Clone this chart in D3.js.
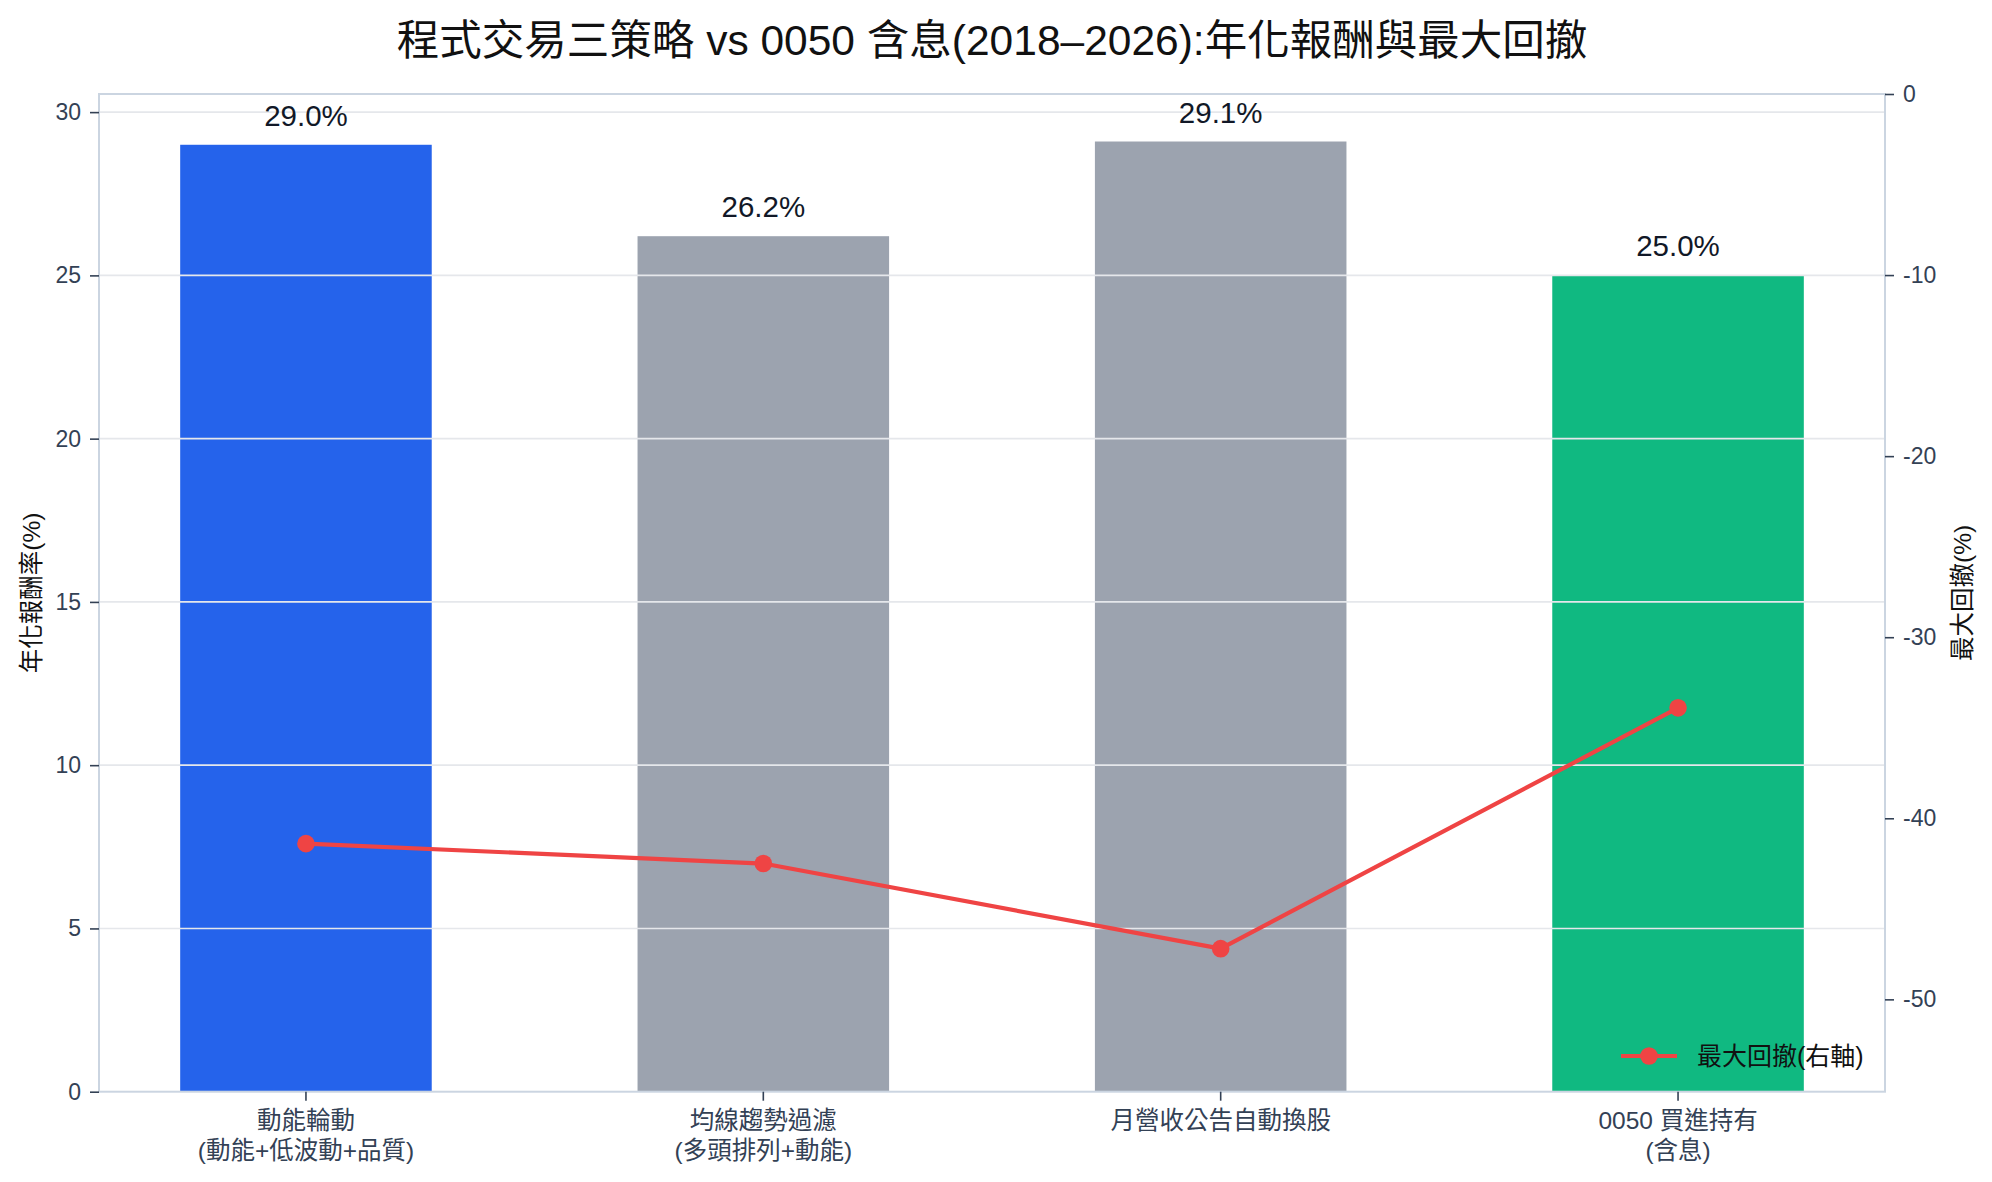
<!DOCTYPE html>
<html lang="zh-Hant">
<head>
  <meta charset="UTF-8">
  <script src="https://cdn.jsdelivr.net/npm/d3@7"></script>
  <title>程式交易三策略 vs 0050</title>
  <style>
    body { margin: 0; background: #fff; }
    svg text { font-family: "Liberation Sans", Arial, "Noto Sans CJK TC", sans-serif; }
  </style>
</head>
<body>
  <svg width="1992" height="1182"></svg>
  <script>
    // data
    var categories = ["動能輪動\n(動能+低波動+品質)", "均線趨勢過濾\n(多頭排列+動能)", "月營收公告自動換股", "0050 買進持有\n(含息)"];
    var annualReturn = [29.0, 26.2, 29.1, 25.0];
    var maxDrawdown = [-41.4, -42.5, -47.2, -33.9];
    var barColors = ["#2563eb", "#9ca3af", "#9ca3af", "#10b981"];
    var leftTicks = [0, 5, 10, 15, 20, 25, 30];
    var rightTicks = [0, -10, -20, -30, -40, -50];

    var svg = d3.select("svg");
    var box = {left: 99, right: 1885, top: 94, bottom: 1091.7};
    var ink = "#334155";

    // scales
    var x = d3.scaleBand().domain(categories)
      .range([box.left, box.right]).paddingInner(0.45).paddingOuter(0.1775);
    var yL = d3.scaleLinear().domain([0, 30.555]).range([box.bottom, box.top]);
    var yR = d3.scaleLinear().domain([-55.1, 0]).range([box.bottom, box.top]);

    // bars
    svg.append("g").selectAll("rect").data(annualReturn).enter().append("rect")
      .attr("x", function(d, i){ return x(categories[i]) })
      .attr("y", function(d){ return yL(d) })
      .attr("width", x.bandwidth())
      .attr("height", function(d){ return yL(0) - yL(d) })
      .attr("fill", function(d, i){ return barColors[i] });

    // grid on top of bars
    svg.append("g").selectAll("line").data(leftTicks.slice(1)).enter().append("line")
      .attr("x1", box.left).attr("x2", box.right)
      .attr("y1", function(d){ return yL(d) }).attr("y2", function(d){ return yL(d) })
      .attr("stroke", "#e5e7eb").attr("stroke-width", 1.6);

    // value labels
    svg.append("g").selectAll("text").data(annualReturn).enter().append("text")
      .attr("x", function(d, i){ return x(categories[i]) + x.bandwidth() / 2 })
      .attr("y", function(d){ return yL(d) - 19 })
      .attr("text-anchor", "middle")
      .attr("font-size", 29.5)
      .attr("fill", "#111827")
      .text(function(d){ return d.toFixed(1) + "%" });

    // frame
    svg.append("rect")
      .attr("x", box.left).attr("y", box.top)
      .attr("width", box.right - box.left).attr("height", box.bottom - box.top)
      .attr("fill", "none").attr("stroke", "#cbd5e1").attr("stroke-width", 2);

    // axes
    function styleAxis(g) {
      g.select(".domain").remove();
      g.selectAll(".tick line").attr("stroke", ink).attr("stroke-width", 1.6);
      g.selectAll(".tick text").attr("fill", ink).attr("font-size", 23)
        .attr("font-family", "'Liberation Sans', Arial, 'Noto Sans CJK TC', sans-serif");
    }
    svg.append("g").attr("transform", "translate(" + box.left + ",0)")
      .call(d3.axisLeft(yL).tickValues(leftTicks).tickSize(9).tickPadding(9))
      .call(styleAxis);
    svg.append("g").attr("transform", "translate(" + box.right + ",0)")
      .call(d3.axisRight(yR).tickValues(rightTicks).tickSize(9).tickPadding(9).tickFormat(function(d){ return d < 0 ? "-" + Math.abs(d) : d }))
      .call(styleAxis);
    var xg = svg.append("g").attr("transform", "translate(0," + box.bottom + ")")
      .call(d3.axisBottom(x).tickSize(9).tickFormat(""))
      .call(styleAxis);
    xg.selectAll(".tick").append("text")
      .attr("fill", ink).attr("font-size", 24.5).attr("text-anchor", "middle")
      .selectAll("tspan").data(function(d){ return d.split("\n") }).enter().append("tspan")
      .attr("x", 0)
      .attr("y", function(d, i){ return 37 + i * 30 })
      .text(function(d){ return d });

    // drawdown line (right axis)
    var line = d3.line()
      .x(function(d, i){ return x(categories[i]) + x.bandwidth() / 2 })
      .y(function(d){ return yR(d) });
    svg.append("path").datum(maxDrawdown)
      .attr("d", line).attr("fill", "none")
      .attr("stroke", "#ef4444").attr("stroke-width", 4.2).attr("stroke-linejoin", "round");
    svg.append("g").selectAll("circle").data(maxDrawdown).enter().append("circle")
      .attr("cx", function(d, i){ return x(categories[i]) + x.bandwidth() / 2 })
      .attr("cy", function(d){ return yR(d) })
      .attr("r", 8.8).attr("fill", "#ef4444");

    // axis titles
    svg.append("text")
      .attr("transform", "translate(40," + ((box.top + box.bottom) / 2) + ") rotate(-90)")
      .attr("text-anchor", "middle").attr("font-size", 24.5).attr("fill", "#111")
      .text("年化報酬率(%)");
    svg.append("text")
      .attr("transform", "translate(1971," + ((box.top + box.bottom) / 2) + ") rotate(-90)")
      .attr("text-anchor", "middle").attr("font-size", 24.5).attr("fill", "#111")
      .text("最大回撤(%)");

    // legend
    var lg = svg.append("g").attr("transform", "translate(1621,1056)");
    lg.append("line").attr("x1", 0).attr("x2", 56).attr("stroke", "#ef4444").attr("stroke-width", 4.2);
    lg.append("circle").attr("cx", 28).attr("r", 8.8).attr("fill", "#ef4444");
    lg.append("text").attr("x", 76).attr("y", 9).attr("font-size", 25).attr("fill", "#111")
      .text("最大回撤(右軸)");

    // title
    svg.append("text")
      .attr("x", 992).attr("y", 55)
      .attr("text-anchor", "middle").attr("font-size", 42.5).attr("fill", "#111")
      .text("程式交易三策略 vs 0050 含息(2018–2026):年化報酬與最大回撤");
  </script>
</body>
</html>
